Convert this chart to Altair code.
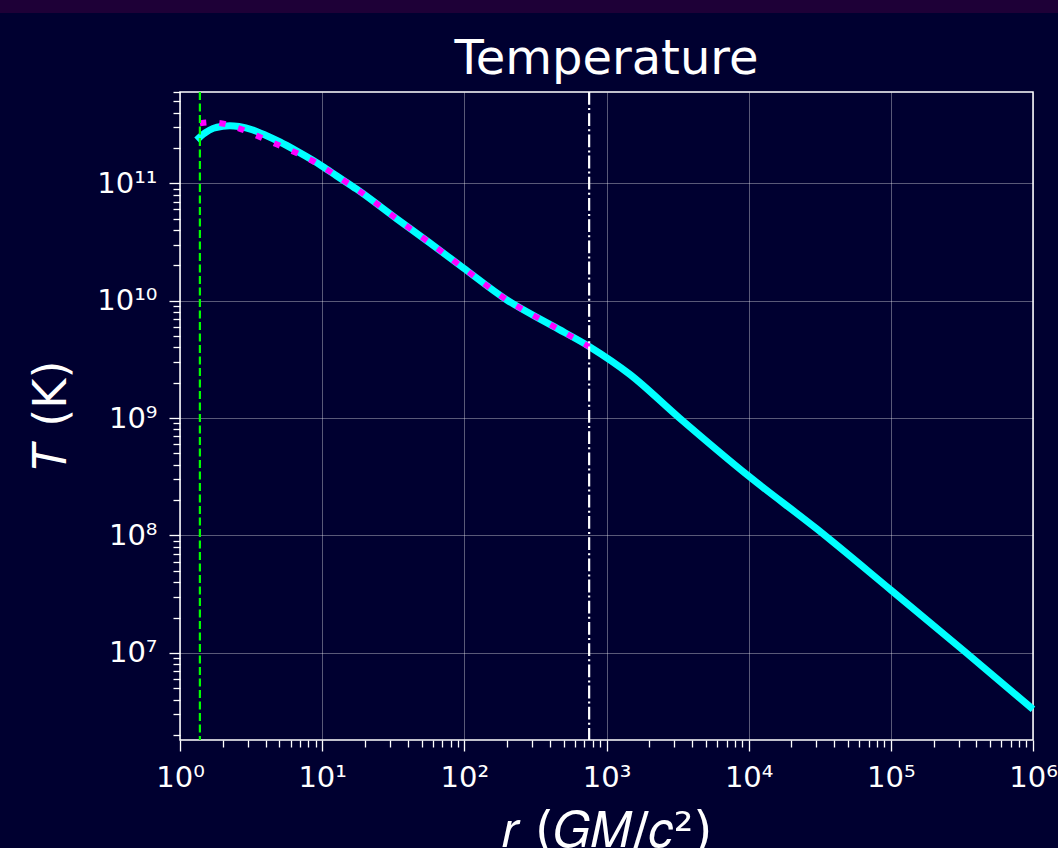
import altair as alt
import pandas as pd

# Fluid (cyan) temperature profile, r in GM/c^2, T in K
r_fluid = [1.31, 1.50, 1.71, 2.0, 2.24, 2.6, 3.26, 4.0, 5.05, 6.5, 8.6, 10.0, 12.6,
           17.5, 33.3, 56.2, 98, 198, 418, 760, 1452, 3266, 10140, 29790, 100000,
           339600, 1000000]
T_fluid = [2.34e11, 2.69e11, 2.94e11, 3.07e11, 3.10e11, 3.05e11, 2.85e11, 2.57e11,
           2.25e11, 1.91e11, 1.57e11, 1.40e11, 1.16e11, 8.91e10, 5.01e10, 3.16e10,
           1.91e10, 1.02e10, 6.10e9, 4.06e9, 2.37e9, 1.0e9, 3.16e8, 1.15e8, 3.43e7,
           1.0e7, 3.31e6]

# Reference (magenta dotted) profile
r_ref = [1.38, 1.585, 1.85, 2.56, 3.48, 4.73, 6.43, 8.6, 12.6, 17.5, 33.3, 56.2,
         98, 198, 418, 755]
T_ref = [3.24e11, 3.31e11, 3.28e11, 2.96e11, 2.54e11, 2.16e11, 1.84e11, 1.55e11,
         1.16e11, 8.91e10, 5.01e10, 3.16e10, 1.91e10, 1.02e10, 6.10e9, 4.07e9]

r_horizon = [1.38]
r_outer = [755]

x_domain = [1, 1e6]
y_domain = [1.81e6, 6.0e11]

x_tick_values = [m * 10 ** k for k in range(0, 6) for m in range(1, 10)] + [1e6]
y_tick_values = [m * 10 ** k for k in range(6, 12) for m in range(1, 10)
                 if y_domain[0] <= m * 10 ** k <= y_domain[1]]

df_fluid = pd.DataFrame({"r": r_fluid, "T": T_fluid})
df_ref = pd.DataFrame({"r": r_ref, "T": T_ref})
df_h = pd.DataFrame({"r": r_horizon})
df_o = pd.DataFrame({"r": r_outer})

BG = "#000030"
FONT = "DejaVu Sans"

major = "abs(log(datum.value)/LN10 - round(log(datum.value)/LN10)) < 0.001"
e = "round(log(datum.value)/LN10)"
sup = "'⁰¹²³⁴⁵⁶⁷⁸⁹'"
label_expr = (f"({major}) ? '10' + ({e} >= 10 ? '¹' + substring({sup}, {e} - 10, {e} - 9)"
              f" : substring({sup}, {e}, {e} + 1)) : ''")

common_axis = dict(
    labelExpr=label_expr,
    labelOverlap=False,
    labelFlush=False,
    labelFont=FONT,
    labelFontSize=29,
    labelColor="white",
    tickColor="white",
    tickWidth=1.3,
    tickSize={"condition": {"test": major, "value": 11}, "value": 7},
    gridColor="white",
    gridWidth=1,
    gridOpacity={"condition": {"test": major, "value": 0.35}, "value": 0},
    domain=False,
    titleFont=FONT,
    titleFontWeight="normal",
    titleColor="white",
    titleBaseline="alphabetic",
)

x_axis = alt.Axis(values=x_tick_values, title="𝑟 (𝐺𝑀/𝑐²)", titleFontSize=49,
                  titleY=106, labelPadding=12, **common_axis)
y_axis = alt.Axis(values=y_tick_values, title="𝑇 (K)", titleFontSize=46, titleAngle=270,
                  titleX=-115, titleY=323, titleAlign="center",
                  labelPadding=12, **common_axis)

xs = alt.Scale(type="log", domain=x_domain, nice=False)
ys = alt.Scale(type="log", domain=y_domain, nice=False)

X = alt.X("r:Q", scale=xs, axis=x_axis)
Y = alt.Y("T:Q", scale=ys, axis=y_axis)

fluid = alt.Chart(df_fluid).mark_line(color="#00ffff", strokeWidth=7,
                                      interpolate="monotone").encode(x=X, y=Y)
ref = alt.Chart(df_ref).mark_line(color="#ff00ff", strokeWidth=6,
                                  strokeDash=[6.5, 13], interpolate="monotone").encode(x=X, y=Y)
horizon = alt.Chart(df_h).mark_rule(color="#00ff00", strokeWidth=2.2,
                                    strokeDash=[8, 3.5]).encode(x=X)
outer = alt.Chart(df_o).mark_rule(color="white", strokeWidth=2.2,
                                  strokeDash=[12.8, 3.2, 2, 3.2]).encode(x=X)
strip = alt.Chart(df_h).mark_rect(color="#1e0037").encode(
    x=alt.value(-180), x2=alt.value(878), y=alt.value(-92), y2=alt.value(-79))

chart = alt.layer(strip, fluid, ref, horizon, outer).properties(
    width=853,
    height=648,
    background=BG,
    padding={"left": 180, "top": 92, "right": 25, "bottom": 108},
    autosize=alt.AutoSizeParams(type="none"),
    title=alt.TitleParams("Temperature", font=FONT, fontSize=48, fontWeight="normal",
                          color="white", anchor="middle", baseline="alphabetic",
                          frame="group", offset=-122),
).configure_view(stroke="white", strokeWidth=1.5, fill=BG)

chart.save("out.html", embed_options={"renderer": "svg", "actions": False})
